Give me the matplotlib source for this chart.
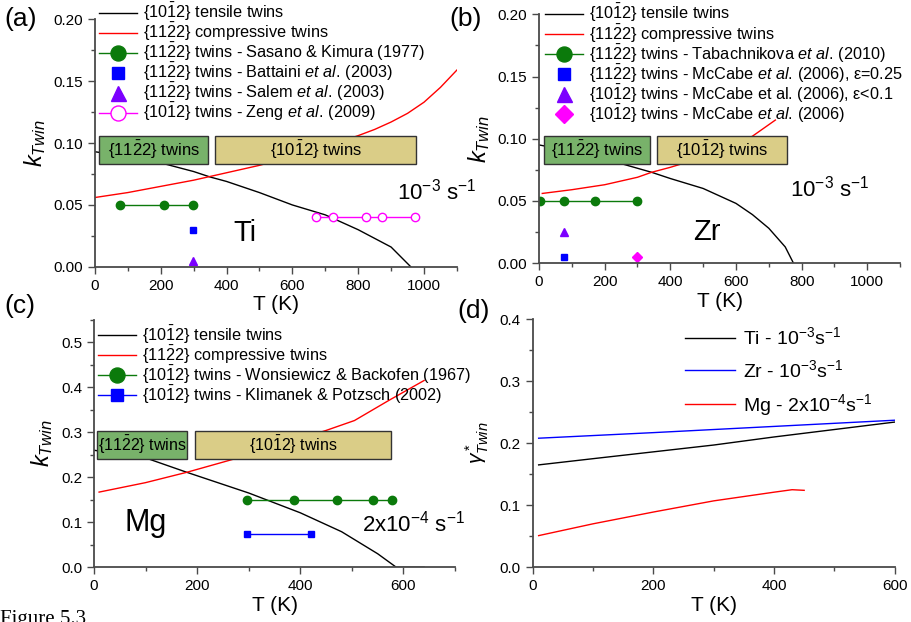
import numpy as np
import matplotlib
matplotlib.use('Agg')
import matplotlib.pyplot as plt
from matplotlib.patches import Rectangle
from matplotlib.ticker import MultipleLocator, FormatStrFormatter

plt.rcParams['font.family'] = ['Liberation Sans', 'DejaVu Sans']
plt.rcParams['mathtext.fontset'] = 'custom'
plt.rcParams['mathtext.rm'] = 'Liberation Sans'
plt.rcParams['mathtext.it'] = 'Liberation Sans:italic'
plt.rcParams['mathtext.bf'] = 'Liberation Sans:bold'

# ---- (a) Ti ----
ti_T_ten = [0, 100, 200, 300, 350, 400, 500, 600, 700, 800, 900, 960]
ti_k_ten = [0.093, 0.089, 0.084, 0.077, 0.0726, 0.069, 0.060, 0.050, 0.042, 0.030, 0.016, 0.0]
ti_T_comp = [0, 100, 200, 300, 400, 500, 600, 700, 800, 850, 900, 950, 1000, 1050, 1100]
ti_k_comp = [0.056, 0.060, 0.065, 0.070, 0.076, 0.082, 0.089, 0.097, 0.106, 0.111, 0.117, 0.124, 0.133, 0.145, 0.159]
ti_T_sasano = [77, 211, 298]
ti_k_sasano = [0.05, 0.05, 0.05]
ti_T_battaini = [298]
ti_k_battaini = [0.03]
ti_T_salem = [298]
ti_k_salem = [0.005]
ti_T_zeng = [673, 723, 823, 873, 973]
ti_k_zeng = [0.04, 0.04, 0.04, 0.04, 0.04]

# ---- (b) Zr ----
zr_T_ten = [0, 100, 200, 250, 343, 400, 500, 600, 650, 700, 750, 775]
zr_k_ten = [0.095, 0.090, 0.084, 0.080, 0.073, 0.068, 0.060, 0.048, 0.039, 0.028, 0.013, 0.0]
zr_T_comp = [10, 100, 200, 300, 343, 400, 500, 600, 650, 720]
zr_k_comp = [0.056, 0.059, 0.063, 0.069, 0.073, 0.077, 0.085, 0.095, 0.102, 0.115]
zr_T_tab = [4, 77, 170, 300]
zr_k_tab = [0.05, 0.05, 0.05, 0.05]
zr_T_mc1 = [77]
zr_k_mc1 = [0.005]
zr_T_mc2 = [77]
zr_k_mc2 = [0.025]
zr_T_mc3 = [300]
zr_k_mc3 = [0.005]

# ---- (c) Mg ----
mg_T_ten = [0, 100, 180, 300, 400, 480, 550, 586, 640]
mg_k_ten = [0.26, 0.243, 0.211, 0.165, 0.121, 0.079, 0.030, 0.0, 0.0]
mg_T_comp = [10, 100, 180, 270, 350, 450, 505, 572, 640]
mg_k_comp = [0.167, 0.188, 0.211, 0.240, 0.268, 0.304, 0.326, 0.371, 0.415]
mg_T_wons = [296, 387, 472, 541, 578]
mg_k_wons = [0.15, 0.15, 0.15, 0.15, 0.15]
mg_T_klim = [296, 421]
mg_k_klim = [0.075, 0.075]

# ---- (d) gamma* ----
d_T_ti = [10, 100, 200, 300, 400, 500, 600]
d_g_ti = [0.165, 0.175, 0.186, 0.197, 0.210, 0.222, 0.234]
d_T_zr = [10, 200, 400, 600]
d_g_zr = [0.208, 0.217, 0.227, 0.237]
d_T_mg = [10, 100, 200, 300, 400, 430, 450]
d_g_mg = [0.051, 0.070, 0.089, 0.107, 0.121, 0.125, 0.124]

lab_ten = r'{10$\mathrm{\bar{1}}$2} tensile twins'
lab_comp = r'{11$\mathrm{\bar{2}}$2} compressive twins'
t1122 = r'{11$\mathrm{\bar{2}}$2} twins'
t1012 = r'{10$\mathrm{\bar{1}}$2} twins'
etal = r'$\mathit{et\ al.}\,$'

GREEN = '#0b7a0b'
BLUE = '#0000ff'
PURPLE = '#7b00ff'
MAG = '#ff00ff'
BOXG = '#78b26a'
BOXT = '#dacd87'

fig = plt.figure(figsize=(9.12, 6.22), dpi=100)
ax_a = fig.add_axes([0.104, 0.571, 0.397, 0.398])
ax_b = fig.add_axes([0.591, 0.577, 0.396, 0.400])
ax_c = fig.add_axes([0.103, 0.088, 0.396, 0.398])
ax_d = fig.add_axes([0.584, 0.088, 0.397, 0.399])


def style(ax, xmaj, xmin, ymaj, ymin, yfmt):
    for s in ['top', 'right']:
        ax.spines[s].set_visible(False)
    for s in ['left', 'bottom']:
        ax.spines[s].set_color('#4a4a4a')
        ax.spines[s].set_linewidth(1.3)
    ax.xaxis.set_major_locator(MultipleLocator(xmaj))
    ax.xaxis.set_minor_locator(MultipleLocator(xmin))
    ax.yaxis.set_major_locator(MultipleLocator(ymaj))
    ax.yaxis.set_minor_locator(MultipleLocator(ymin))
    ax.yaxis.set_major_formatter(FormatStrFormatter(yfmt))
    ax.tick_params(which='major', direction='out', length=5, width=1, color='#4a4a4a', labelsize=11)
    ax.tick_params(which='minor', direction='out', length=3, width=1, color='#4a4a4a')
    ax.set_xlabel('T (K)', fontsize=15, labelpad=2)


def boxes(ax, g, t, fs):
    for (x0, x1, y0, y1), fc, txt in [(g, BOXG, t1122), (t, BOXT, t1012)]:
        ax.add_patch(Rectangle((x0, y0), x1 - x0, y1 - y0, facecolor=fc,
                               edgecolor='#333333', lw=1, zorder=5))
        ax.text((x0 + x1) / 2, (y0 + y1) / 2, txt, ha='center', va='center',
                fontsize=fs, zorder=6)


def kleg(ax, anchor):
    ax.legend(loc='upper left', bbox_to_anchor=anchor, frameon=False,
              fontsize=11.7, borderpad=0, borderaxespad=0, labelspacing=-0.13,
              handlelength=2.3, handletextpad=0.4, markerscale=1.8)


# (a)
ax = ax_a
ax.plot(ti_T_ten, ti_k_ten, color='black', lw=1, label=lab_ten)
ax.plot(ti_T_comp, ti_k_comp, color='red', lw=1, label=lab_comp)
ax.plot(ti_T_sasano, ti_k_sasano, 'o-', color=GREEN, ms=6, lw=1,
        label=t1122 + ' - Sasano & Kimura (1977)')
ax.plot(ti_T_battaini, ti_k_battaini, 's', color=BLUE, ms=5,
        label=t1122 + ' - Battaini ' + etal + '(2003)')
ax.plot(ti_T_salem, ti_k_salem, '^', color=PURPLE, ms=6,
        label=t1122 + ' - Salem ' + etal + '(2003)')
ax.plot(ti_T_zeng, ti_k_zeng, 'o-', color=MAG, mfc='white', ms=6, lw=1,
        label=t1012 + ' - Zeng ' + etal + '(2009)')
boxes(ax, (12, 345, 0.083, 0.106), (366, 976, 0.083, 0.106), 12)
ax.text(457, 0.027, 'Ti', fontsize=21, ha='center', va='center')
ax.text(1040, 0.061, r'10$^{-3}$ s$^{-1}$', fontsize=16, ha='center', va='center')
ax.set_xlim(0, 1100)
ax.set_ylim(0, 0.20)
style(ax, 200, 100, 0.05, 0.025, '%.2f')
ax.set_ylabel(r'$k_{Twin}$', fontsize=17, labelpad=4)
kleg(ax, (0.012, 1.073))

# (b)
ax = ax_b
ax.plot(zr_T_ten, zr_k_ten, color='black', lw=1, label=lab_ten)
ax.plot(zr_T_comp, zr_k_comp, color='red', lw=1, label=lab_comp)
ax.plot(zr_T_tab, zr_k_tab, 'o-', color=GREEN, ms=6, lw=1,
        label=t1122 + ' - Tabachnikova ' + etal + '(2010)')
ax.plot(zr_T_mc1, zr_k_mc1, 's', color=BLUE, ms=5,
        label=t1122 + ' - McCabe ' + etal + '(2006), ε=0.25')
ax.plot(zr_T_mc2, zr_k_mc2, '^', color=PURPLE, ms=6,
        label=t1012 + ' - McCabe et al. (2006), ε<0.1')
ax.plot(zr_T_mc3, zr_k_mc3, 'D', color=MAG, ms=5,
        label=t1012 + ' - McCabe ' + etal + '(2006)')
boxes(ax, (15, 337, 0.080, 0.102), (359, 754, 0.080, 0.102), 12)
ax.text(511, 0.025, 'Zr', fontsize=21, ha='center', va='center')
ax.text(885, 0.060, r'10$^{-3}$ s$^{-1}$', fontsize=16, ha='center', va='center')
ax.set_xlim(0, 1100)
ax.set_ylim(0, 0.20)
style(ax, 200, 100, 0.05, 0.025, '%.2f')
ax.set_ylabel(r'$k_{Twin}$', fontsize=17, labelpad=4)
kleg(ax, (0.018, 1.048))

# (c)
ax = ax_c
ax.plot(mg_T_ten, mg_k_ten, color='black', lw=1, label=lab_ten)
ax.plot(mg_T_comp, mg_k_comp, color='red', lw=1, label=lab_comp)
ax.plot(mg_T_wons, mg_k_wons, 'o-', color=GREEN, ms=6, lw=1,
        label=t1012 + ' - Wonsiewicz & Backofen (1967)')
ax.plot(mg_T_klim, mg_k_klim, 's-', color=BLUE, ms=5, lw=1,
        label=t1012 + ' - Klimanek & Potzsch (2002)')
boxes(ax, (6, 180, 0.24, 0.302), (195, 576, 0.24, 0.302), 11.5)
ax.text(100, 0.098, 'Mg', fontsize=22, ha='center', va='center')
ax.text(620, 0.098, r'2x10$^{-4}$ s$^{-1}$', fontsize=16, ha='center', va='center')
ax.set_xlim(0, 700)
ax.set_ylim(0, 0.55)
style(ax, 200, 100, 0.1, 0.05, '%.1f')
ax.set_ylabel(r'$k_{Twin}$', fontsize=17, labelpad=4)
kleg(ax, (0.012, 0.984))

# (d)
ax = ax_d
ax.plot(d_T_ti, d_g_ti, color='black', lw=1, label=r'Ti - 10$^{-3}$s$^{-1}$')
ax.plot(d_T_zr, d_g_zr, color=BLUE, lw=1, label=r'Zr - 10$^{-3}$s$^{-1}$')
ax.plot(d_T_mg, d_g_mg, color='red', lw=1, label=r'Mg - 2x10$^{-4}$s$^{-1}$')
ax.set_xlim(0, 600)
ax.set_ylim(0, 0.4)
style(ax, 200, 100, 0.1, 0.05, '%.1f')
ax.set_ylabel(r'$\gamma^*_{Twin}$', fontsize=15, labelpad=6)
ax.legend(loc='upper left', bbox_to_anchor=(0.42, 0.97), frameon=False,
          fontsize=14, borderpad=0, borderaxespad=0, labelspacing=0.55,
          handlelength=2.6, handletextpad=0.4)

for x, y, s in [(0.005, 0.97, '(a)'), (0.493, 0.97, '(b)'),
                (0.005, 0.508, '(c)'), (0.502, 0.5, '(d)')]:
    fig.text(x, y, s, fontsize=19, ha='left', va='center')

# caption line, partly below the bottom edge as in the source page
fig.text(0.0, -0.012, 'Figure 5.3', family='Liberation Serif', fontsize=15,
         ha='left', va='bottom')

fig.savefig('out.png', dpi=100)
